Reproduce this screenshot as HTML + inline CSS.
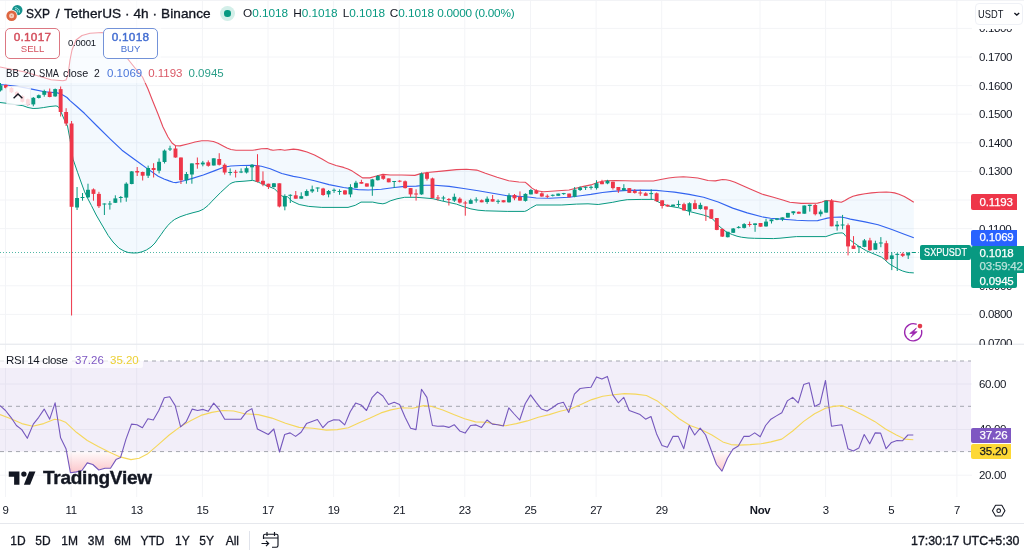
<!DOCTYPE html>
<html><head><meta charset="utf-8"><title>SXP / TetherUS</title>
<style>
html,body{margin:0;padding:0;background:#fff;}
body{width:1024px;height:550px;overflow:hidden;position:relative;font-family:"Liberation Sans",sans-serif;color:#131722;}
#chart{position:absolute;left:0;top:0;}
#wrap{position:absolute;left:0;top:0;width:1024px;height:550px;will-change:transform;transform:translateZ(0);}
.t{position:absolute;white-space:nowrap;line-height:1;}
#bb i{position:absolute;top:0;font-style:normal;transform-origin:0 0;}
.ax{position:absolute;left:979px;font-size:11.5px;color:#131722;line-height:12px;height:12px;white-space:nowrap;letter-spacing:-0.35px;}
.lab{position:absolute;left:971.3px;width:45.4px;height:15px;color:#fff;font-size:11.5px;line-height:15px;text-indent:8.3px;letter-spacing:-0.2px;white-space:nowrap;-webkit-text-stroke:0.25px currentColor;overflow:hidden;border-radius:2px 0 0 2px;}
.tl{position:absolute;top:504.2px;font-size:11.4px;letter-spacing:-0.4px;line-height:12px;transform:translateX(-50%);color:#131722;white-space:nowrap;}
.rb{position:absolute;top:535px;font-size:12px;line-height:12px;transform:translateX(-50%);color:#131722;white-space:nowrap;-webkit-text-stroke:0.3px #131722;}
.btn{position:absolute;top:28px;width:53px;height:29px;border:1px solid;border-radius:5px;background:#fff;text-align:center;}
.btn b{display:block;font-weight:normal;-webkit-text-stroke:0.45px currentColor;font-size:11.8px;line-height:12px;margin-top:1.6px;letter-spacing:0.25px;}
.btn span{display:block;font-size:9.6px;line-height:10px;margin-top:1.5px;}
</style></head><body>
<svg id="chart" width="1024" height="550" viewBox="0 0 1024 550" shape-rendering="auto">
<line x1="5.5" y1="0" x2="5.5" y2="497" stroke="#f3f4f7" stroke-width="1"/>
<line x1="71.1" y1="0" x2="71.1" y2="497" stroke="#f3f4f7" stroke-width="1"/>
<line x1="136.7" y1="0" x2="136.7" y2="497" stroke="#f3f4f7" stroke-width="1"/>
<line x1="202.4" y1="0" x2="202.4" y2="497" stroke="#f3f4f7" stroke-width="1"/>
<line x1="268.0" y1="0" x2="268.0" y2="497" stroke="#f3f4f7" stroke-width="1"/>
<line x1="333.6" y1="0" x2="333.6" y2="497" stroke="#f3f4f7" stroke-width="1"/>
<line x1="399.2" y1="0" x2="399.2" y2="497" stroke="#f3f4f7" stroke-width="1"/>
<line x1="464.8" y1="0" x2="464.8" y2="497" stroke="#f3f4f7" stroke-width="1"/>
<line x1="530.5" y1="0" x2="530.5" y2="497" stroke="#f3f4f7" stroke-width="1"/>
<line x1="596.1" y1="0" x2="596.1" y2="497" stroke="#f3f4f7" stroke-width="1"/>
<line x1="661.7" y1="0" x2="661.7" y2="497" stroke="#f3f4f7" stroke-width="1"/>
<line x1="760.0" y1="0" x2="760.0" y2="497" stroke="#f3f4f7" stroke-width="1"/>
<line x1="825.6" y1="0" x2="825.6" y2="497" stroke="#f3f4f7" stroke-width="1"/>
<line x1="891.3" y1="0" x2="891.3" y2="497" stroke="#f3f4f7" stroke-width="1"/>
<line x1="956.9" y1="0" x2="956.9" y2="497" stroke="#f3f4f7" stroke-width="1"/>
<line x1="0" y1="28.4" x2="972" y2="28.4" stroke="#f3f4f7" stroke-width="1"/>
<line x1="0" y1="57.0" x2="972" y2="57.0" stroke="#f3f4f7" stroke-width="1"/>
<line x1="0" y1="85.6" x2="972" y2="85.6" stroke="#f3f4f7" stroke-width="1"/>
<line x1="0" y1="114.2" x2="972" y2="114.2" stroke="#f3f4f7" stroke-width="1"/>
<line x1="0" y1="142.8" x2="972" y2="142.8" stroke="#f3f4f7" stroke-width="1"/>
<line x1="0" y1="171.4" x2="972" y2="171.4" stroke="#f3f4f7" stroke-width="1"/>
<line x1="0" y1="200.0" x2="972" y2="200.0" stroke="#f3f4f7" stroke-width="1"/>
<line x1="0" y1="228.6" x2="972" y2="228.6" stroke="#f3f4f7" stroke-width="1"/>
<line x1="0" y1="257.2" x2="972" y2="257.2" stroke="#f3f4f7" stroke-width="1"/>
<line x1="0" y1="285.8" x2="972" y2="285.8" stroke="#f3f4f7" stroke-width="1"/>
<line x1="0" y1="314.4" x2="972" y2="314.4" stroke="#f3f4f7" stroke-width="1"/>
<line x1="0" y1="384" x2="972" y2="384" stroke="#f3f4f7" stroke-width="1"/>
<line x1="0" y1="429.5" x2="972" y2="429.5" stroke="#f3f4f7" stroke-width="1"/>
<line x1="0" y1="475.2" x2="972" y2="475.2" stroke="#f3f4f7" stroke-width="1"/>
<rect x="0" y="343.6" width="1024" height="1.3" fill="#e8eaef"/>
<rect x="0" y="523" width="1024" height="1" fill="#e6e8ed"/>
<polygon points="0.0,67.0 25.0,72.0 51.0,79.8 63.0,80.7 66.0,80.0 68.0,75.0 70.0,60.0 72.0,50.0 76.0,40.0 82.0,35.5 90.0,33.3 102.0,32.5 112.0,36.0 120.0,46.0 127.0,58.0 135.0,68.0 142.5,77.0 148.0,89.0 152.7,101.0 158.0,114.0 163.0,127.0 168.0,137.0 172.0,143.0 175.6,145.7 180.0,145.9 188.7,143.7 195.0,142.0 201.8,140.8 208.0,140.8 213.4,141.5 218.0,143.3 222.2,145.5 227.0,148.0 230.9,149.5 236.0,150.2 241.0,150.3 252.7,150.3 261.4,148.8 267.2,148.5 270.0,149.6 273.0,150.3 280.3,149.5 284.7,150.3 293.4,149.1 298.0,149.6 302.1,150.6 307.0,152.0 314.5,155.1 322.0,159.0 329.0,163.1 336.0,165.5 343.6,167.4 348.0,169.0 352.3,171.1 358.2,175.0 362.5,177.9 369.8,177.9 375.6,176.2 382.9,174.4 390.2,175.0 401.8,175.0 414.9,175.4 420.7,173.6 427.3,172.5 441.8,171.1 456.4,169.6 466.5,169.3 476.7,170.1 485.4,173.3 497.1,177.3 508.7,180.8 518.9,182.0 525.4,182.3 528.0,184.5 532.0,188.1 536.3,190.7 543.6,191.7 554.5,191.0 569.0,190.0 574.9,188.5 583.6,186.4 590.9,184.9 598.2,182.3 605.4,180.8 615.6,180.5 634.5,181.0 653.4,181.0 657.0,180.3 660.7,179.5 668.7,178.0 675.0,177.2 683.3,176.8 690.0,177.2 697.8,178.0 703.0,179.2 708.0,180.5 715.3,180.9 722.5,179.5 726.0,179.8 729.8,180.5 735.0,182.3 740.0,184.5 750.2,188.9 761.8,194.0 773.4,197.3 783.6,200.2 789.8,202.3 801.3,203.4 817.6,203.1 822.0,202.0 825.8,200.6 830.0,200.8 835.6,201.4 841.3,202.3 845.0,200.5 848.7,198.2 853.0,196.3 858.5,194.9 865.0,193.7 871.6,192.9 879.0,192.3 886.3,192.0 890.0,192.2 894.5,192.9 899.0,194.3 904.3,196.5 909.0,199.3 913.8,202.3 913.8,272.9 909.2,272.6 906.0,272.0 902.7,271.0 898.5,269.2 894.5,266.9 891.0,265.0 888.0,262.8 884.5,259.5 881.4,257.1 876.5,255.0 871.6,253.0 866.5,250.8 861.8,248.1 857.0,245.0 852.0,241.5 848.5,238.5 845.4,235.8 844.0,233.8 842.2,232.9 838.0,233.1 834.0,233.8 830.0,235.2 825.8,236.6 796.4,236.6 790.0,237.2 780.0,238.2 773.4,238.6 754.5,238.3 748.0,238.0 741.4,237.2 737.0,236.2 732.7,234.7 728.0,232.8 724.0,230.3 718.2,225.3 715.0,221.5 712.3,218.7 708.0,216.5 703.6,215.1 689.1,211.4 678.9,207.8 668.7,206.1 662.1,203.8 656.3,200.9 653.4,199.4 641.8,199.4 627.2,199.7 620.0,200.8 612.7,202.3 598.2,204.5 588.0,203.8 576.4,204.1 561.8,205.0 536.3,205.0 530.5,208.2 527.0,210.5 524.7,211.4 507.2,211.4 485.4,210.8 478.0,210.2 470.9,208.9 463.0,206.5 456.4,204.1 441.8,200.9 433.0,198.7 425.0,198.0 416.3,197.3 404.7,197.3 397.0,198.8 390.2,200.9 386.0,203.0 382.9,203.8 378.0,203.2 372.7,202.1 361.0,202.1 355.3,205.3 348.0,207.4 321.8,207.4 308.7,206.4 299.2,204.5 292.0,201.2 287.6,196.8 281.8,196.1 278.9,193.2 274.5,188.8 267.2,185.9 258.5,182.3 255.0,181.0 252.7,180.4 244.0,181.2 235.3,181.8 232.0,182.8 229.4,184.4 220.7,192.4 212.0,201.2 208.0,205.5 203.3,209.2 199.0,211.2 193.0,212.7 186.3,214.6 180.0,216.8 174.7,219.4 171.5,221.8 168.0,225.3 164.5,229.6 161.0,234.6 157.2,239.8 155.0,243.0 151.0,247.0 146.4,250.0 142.0,251.8 137.3,252.9 133.0,253.0 128.2,252.5 124.0,251.0 119.0,248.2 113.0,242.0 108.2,235.5 102.0,225.0 96.2,215.0 91.4,205.5 88.0,199.0 84.6,191.8 81.0,182.0 77.7,172.7 73.0,159.1 70.0,139.4 67.5,126.0 64.0,119.0 61.0,112.0 59.2,108.2 58.0,106.5 56.0,105.9 50.0,106.5 43.3,107.6 38.0,108.3 33.1,108.5 28.0,107.5 22.9,105.7 7.6,103.4 0.0,102.5" fill="rgba(33,150,243,0.055)"/>
<polyline points="0.0,67.0 25.0,72.0 51.0,79.8 63.0,80.7 66.0,80.0 68.0,75.0 70.0,60.0 72.0,50.0 76.0,40.0 82.0,35.5 90.0,33.3 102.0,32.5 112.0,36.0 120.0,46.0 127.0,58.0 135.0,68.0 142.5,77.0 148.0,89.0 152.7,101.0 158.0,114.0 163.0,127.0 168.0,137.0 172.0,143.0 175.6,145.7 180.0,145.9 188.7,143.7 195.0,142.0 201.8,140.8 208.0,140.8 213.4,141.5 218.0,143.3 222.2,145.5 227.0,148.0 230.9,149.5 236.0,150.2 241.0,150.3 252.7,150.3 261.4,148.8 267.2,148.5 270.0,149.6 273.0,150.3 280.3,149.5 284.7,150.3 293.4,149.1 298.0,149.6 302.1,150.6 307.0,152.0 314.5,155.1 322.0,159.0 329.0,163.1 336.0,165.5 343.6,167.4 348.0,169.0 352.3,171.1 358.2,175.0 362.5,177.9 369.8,177.9 375.6,176.2 382.9,174.4 390.2,175.0 401.8,175.0 414.9,175.4 420.7,173.6 427.3,172.5 441.8,171.1 456.4,169.6 466.5,169.3 476.7,170.1 485.4,173.3 497.1,177.3 508.7,180.8 518.9,182.0 525.4,182.3 528.0,184.5 532.0,188.1 536.3,190.7 543.6,191.7 554.5,191.0 569.0,190.0 574.9,188.5 583.6,186.4 590.9,184.9 598.2,182.3 605.4,180.8 615.6,180.5 634.5,181.0 653.4,181.0 657.0,180.3 660.7,179.5 668.7,178.0 675.0,177.2 683.3,176.8 690.0,177.2 697.8,178.0 703.0,179.2 708.0,180.5 715.3,180.9 722.5,179.5 726.0,179.8 729.8,180.5 735.0,182.3 740.0,184.5 750.2,188.9 761.8,194.0 773.4,197.3 783.6,200.2 789.8,202.3 801.3,203.4 817.6,203.1 822.0,202.0 825.8,200.6 830.0,200.8 835.6,201.4 841.3,202.3 845.0,200.5 848.7,198.2 853.0,196.3 858.5,194.9 865.0,193.7 871.6,192.9 879.0,192.3 886.3,192.0 890.0,192.2 894.5,192.9 899.0,194.3 904.3,196.5 909.0,199.3 913.8,202.3" fill="none" stroke="#e6495b" stroke-width="1.1" stroke-linejoin="round"/>
<polyline points="0.0,102.5 7.6,103.4 22.9,105.7 28.0,107.5 33.1,108.5 38.0,108.3 43.3,107.6 50.0,106.5 56.0,105.9 58.0,106.5 59.2,108.2 61.0,112.0 64.0,119.0 67.5,126.0 70.0,139.4 73.0,159.1 77.7,172.7 81.0,182.0 84.6,191.8 88.0,199.0 91.4,205.5 96.2,215.0 102.0,225.0 108.2,235.5 113.0,242.0 119.0,248.2 124.0,251.0 128.2,252.5 133.0,253.0 137.3,252.9 142.0,251.8 146.4,250.0 151.0,247.0 155.0,243.0 157.2,239.8 161.0,234.6 164.5,229.6 168.0,225.3 171.5,221.8 174.7,219.4 180.0,216.8 186.3,214.6 193.0,212.7 199.0,211.2 203.3,209.2 208.0,205.5 212.0,201.2 220.7,192.4 229.4,184.4 232.0,182.8 235.3,181.8 244.0,181.2 252.7,180.4 255.0,181.0 258.5,182.3 267.2,185.9 274.5,188.8 278.9,193.2 281.8,196.1 287.6,196.8 292.0,201.2 299.2,204.5 308.7,206.4 321.8,207.4 348.0,207.4 355.3,205.3 361.0,202.1 372.7,202.1 378.0,203.2 382.9,203.8 386.0,203.0 390.2,200.9 397.0,198.8 404.7,197.3 416.3,197.3 425.0,198.0 433.0,198.7 441.8,200.9 456.4,204.1 463.0,206.5 470.9,208.9 478.0,210.2 485.4,210.8 507.2,211.4 524.7,211.4 527.0,210.5 530.5,208.2 536.3,205.0 561.8,205.0 576.4,204.1 588.0,203.8 598.2,204.5 612.7,202.3 620.0,200.8 627.2,199.7 641.8,199.4 653.4,199.4 656.3,200.9 662.1,203.8 668.7,206.1 678.9,207.8 689.1,211.4 703.6,215.1 708.0,216.5 712.3,218.7 715.0,221.5 718.2,225.3 724.0,230.3 728.0,232.8 732.7,234.7 737.0,236.2 741.4,237.2 748.0,238.0 754.5,238.3 773.4,238.6 780.0,238.2 790.0,237.2 796.4,236.6 825.8,236.6 830.0,235.2 834.0,233.8 838.0,233.1 842.2,232.9 844.0,233.8 845.4,235.8 848.5,238.5 852.0,241.5 857.0,245.0 861.8,248.1 866.5,250.8 871.6,253.0 876.5,255.0 881.4,257.1 884.5,259.5 888.0,262.8 891.0,265.0 894.5,266.9 898.5,269.2 902.7,271.0 906.0,272.0 909.2,272.6 913.8,272.9" fill="none" stroke="#089981" stroke-width="1" stroke-linejoin="round"/>
<polyline points="0.0,84.5 8.0,85.3 19.0,86.6 31.8,89.1 44.6,91.7 57.3,92.9 61.0,94.0 63.7,95.5 67.0,97.5 70.0,100.6 76.8,106.5 84.4,113.3 97.0,126.0 110.6,139.4 122.0,150.2 135.0,159.8 147.3,168.6 158.2,176.2 164.0,179.0 169.1,180.9 173.0,182.2 176.0,182.6 180.0,181.8 185.0,180.5 191.6,178.6 203.3,175.0 214.9,170.6 223.6,167.3 230.9,166.0 241.0,165.5 252.7,165.2 261.4,166.3 270.2,168.7 281.8,173.5 293.4,176.4 300.0,177.5 314.5,180.8 329.0,184.6 343.6,187.5 358.2,189.6 368.3,190.0 381.4,189.3 394.5,187.5 404.7,186.4 416.3,186.1 425.0,185.3 434.5,185.2 449.1,186.4 463.6,188.5 478.2,190.7 492.7,193.3 507.2,195.8 521.8,196.5 530.5,197.3 536.3,198.0 550.0,198.2 554.5,198.0 569.0,197.3 580.7,195.8 590.9,194.4 602.5,192.5 612.7,191.4 627.2,190.4 641.8,190.1 656.3,190.4 665.0,191.2 674.5,192.1 689.1,194.4 703.6,197.3 718.2,202.0 732.7,208.1 747.2,212.9 761.8,216.8 770.5,218.3 780.7,219.1 790.0,219.7 796.4,220.3 808.0,220.7 817.6,220.6 822.0,219.5 827.4,218.1 834.0,217.3 840.5,217.0 845.0,217.8 850.3,219.1 865.0,221.9 878.1,224.7 891.2,229.3 904.3,234.2 913.8,237.8" fill="none" stroke="#3264f0" stroke-width="1.15" stroke-linejoin="round"/>
<line x1="0" y1="252.5" x2="972" y2="252.5" stroke="#089981" stroke-width="1" stroke-dasharray="1 2" opacity="0.7"/>
<rect x="0.00" y="83.0" width="1" height="8.5" fill="#089981"/>
<rect x="-1.45" y="85.3" width="3.9" height="5.1" fill="#089981"/>
<rect x="5.47" y="84.5" width="1" height="4.0" fill="#ee3649"/>
<rect x="4.02" y="85.0" width="3.9" height="2.8" fill="#ee3649"/>
<rect x="10.94" y="87.0" width="1" height="6.0" fill="#ee3649"/>
<rect x="9.49" y="87.8" width="3.9" height="4.5" fill="#ee3649"/>
<rect x="16.40" y="91.0" width="1" height="6.0" fill="#ee3649"/>
<rect x="14.95" y="92.0" width="3.9" height="4.0" fill="#ee3649"/>
<rect x="21.87" y="95.0" width="1" height="7.5" fill="#ee3649"/>
<rect x="20.42" y="96.0" width="3.9" height="5.8" fill="#ee3649"/>
<rect x="27.34" y="98.5" width="1" height="7.0" fill="#ee3649"/>
<rect x="25.89" y="99.3" width="3.9" height="5.7" fill="#ee3649"/>
<rect x="32.81" y="97.0" width="1" height="9.3" fill="#089981"/>
<rect x="31.36" y="97.8" width="3.9" height="6.6" fill="#089981"/>
<rect x="38.28" y="94.5" width="1" height="4.0" fill="#089981"/>
<rect x="36.83" y="95.2" width="3.9" height="2.8" fill="#089981"/>
<rect x="43.74" y="89.7" width="1" height="7.0" fill="#089981"/>
<rect x="42.29" y="91.0" width="3.9" height="3.8" fill="#089981"/>
<rect x="49.21" y="88.5" width="1" height="8.8" fill="#ee3649"/>
<rect x="47.76" y="91.9" width="3.9" height="5.1" fill="#ee3649"/>
<rect x="54.68" y="88.5" width="1" height="8.3" fill="#089981"/>
<rect x="53.23" y="89.1" width="3.9" height="7.3" fill="#089981"/>
<rect x="60.15" y="86.5" width="1" height="30.0" fill="#ee3649"/>
<rect x="58.70" y="89.1" width="3.9" height="22.9" fill="#ee3649"/>
<rect x="65.62" y="108.2" width="1" height="17.8" fill="#ee3649"/>
<rect x="64.17" y="112.0" width="3.9" height="11.5" fill="#ee3649"/>
<rect x="71.08" y="121.0" width="1" height="194.5" fill="#ee3649"/>
<rect x="69.63" y="123.5" width="3.9" height="83.3" fill="#ee3649"/>
<rect x="76.55" y="187.0" width="1" height="23.0" fill="#089981"/>
<rect x="75.10" y="198.0" width="3.9" height="9.5" fill="#089981"/>
<rect x="82.02" y="193.0" width="1" height="7.7" fill="#089981"/>
<rect x="80.57" y="197.0" width="3.9" height="1.0" fill="#089981"/>
<rect x="87.49" y="183.7" width="1" height="14.3" fill="#089981"/>
<rect x="86.04" y="189.8" width="3.9" height="7.5" fill="#089981"/>
<rect x="92.96" y="188.4" width="1" height="12.3" fill="#ee3649"/>
<rect x="91.51" y="189.4" width="3.9" height="4.5" fill="#ee3649"/>
<rect x="98.42" y="191.8" width="1" height="16.2" fill="#ee3649"/>
<rect x="96.97" y="193.9" width="3.9" height="12.3" fill="#ee3649"/>
<rect x="103.89" y="203.4" width="1" height="11.6" fill="#089981"/>
<rect x="102.44" y="203.5" width="3.9" height="1.0" fill="#089981"/>
<rect x="109.36" y="201.0" width="1" height="8.6" fill="#089981"/>
<rect x="107.91" y="203.5" width="3.9" height="1.0" fill="#089981"/>
<rect x="114.83" y="195.3" width="1" height="7.7" fill="#089981"/>
<rect x="113.38" y="198.4" width="3.9" height="4.4" fill="#089981"/>
<rect x="120.30" y="196.0" width="1" height="6.5" fill="#089981"/>
<rect x="118.85" y="197.0" width="3.9" height="1.0" fill="#089981"/>
<rect x="125.76" y="182.3" width="1" height="19.4" fill="#089981"/>
<rect x="124.31" y="183.7" width="3.9" height="13.9" fill="#089981"/>
<rect x="131.23" y="171.0" width="1" height="13.3" fill="#089981"/>
<rect x="129.78" y="171.4" width="3.9" height="12.6" fill="#089981"/>
<rect x="136.70" y="167.0" width="1" height="9.0" fill="#ee3649"/>
<rect x="135.25" y="171.0" width="3.9" height="1.5" fill="#ee3649"/>
<rect x="142.17" y="171.6" width="1" height="8.9" fill="#ee3649"/>
<rect x="140.72" y="172.0" width="3.9" height="3.7" fill="#ee3649"/>
<rect x="147.64" y="165.6" width="1" height="12.4" fill="#089981"/>
<rect x="146.19" y="168.0" width="3.9" height="7.7" fill="#089981"/>
<rect x="153.10" y="163.2" width="1" height="14.3" fill="#ee3649"/>
<rect x="151.65" y="168.0" width="3.9" height="2.0" fill="#ee3649"/>
<rect x="158.57" y="158.4" width="1" height="15.0" fill="#089981"/>
<rect x="157.12" y="161.8" width="3.9" height="8.9" fill="#089981"/>
<rect x="164.04" y="149.5" width="1" height="14.0" fill="#089981"/>
<rect x="162.59" y="150.6" width="3.9" height="11.4" fill="#089981"/>
<rect x="169.51" y="145.7" width="1" height="5.3" fill="#089981"/>
<rect x="168.06" y="148.5" width="3.9" height="1.0" fill="#089981"/>
<rect x="174.98" y="146.0" width="1" height="11.7" fill="#ee3649"/>
<rect x="173.53" y="148.5" width="3.9" height="9.0" fill="#ee3649"/>
<rect x="180.44" y="157.5" width="1" height="26.5" fill="#ee3649"/>
<rect x="178.99" y="157.5" width="3.9" height="22.7" fill="#ee3649"/>
<rect x="185.91" y="172.0" width="1" height="11.7" fill="#089981"/>
<rect x="184.46" y="174.0" width="3.9" height="6.2" fill="#089981"/>
<rect x="191.38" y="163.4" width="1" height="20.3" fill="#089981"/>
<rect x="189.93" y="163.4" width="3.9" height="11.1" fill="#089981"/>
<rect x="196.85" y="157.5" width="1" height="11.2" fill="#ee3649"/>
<rect x="195.40" y="163.0" width="3.9" height="1.4" fill="#ee3649"/>
<rect x="202.32" y="160.9" width="1" height="5.4" fill="#089981"/>
<rect x="200.87" y="162.6" width="3.9" height="1.8" fill="#089981"/>
<rect x="207.78" y="160.4" width="1" height="6.3" fill="#ee3649"/>
<rect x="206.33" y="162.3" width="3.9" height="3.5" fill="#ee3649"/>
<rect x="213.25" y="158.3" width="1" height="7.2" fill="#089981"/>
<rect x="211.80" y="158.3" width="3.9" height="7.2" fill="#089981"/>
<rect x="218.72" y="153.2" width="1" height="12.3" fill="#ee3649"/>
<rect x="217.27" y="159.0" width="3.9" height="5.8" fill="#ee3649"/>
<rect x="224.19" y="163.4" width="1" height="11.2" fill="#ee3649"/>
<rect x="222.74" y="164.8" width="3.9" height="7.7" fill="#ee3649"/>
<rect x="229.66" y="168.4" width="1" height="7.0" fill="#089981"/>
<rect x="228.21" y="172.0" width="3.9" height="1.0" fill="#089981"/>
<rect x="235.12" y="169.9" width="1" height="7.6" fill="#ee3649"/>
<rect x="233.67" y="171.8" width="3.9" height="1.0" fill="#ee3649"/>
<rect x="240.59" y="168.4" width="1" height="4.7" fill="#089981"/>
<rect x="239.14" y="171.5" width="3.9" height="1.0" fill="#089981"/>
<rect x="246.06" y="166.3" width="1" height="7.2" fill="#089981"/>
<rect x="244.61" y="168.2" width="3.9" height="4.3" fill="#089981"/>
<rect x="251.53" y="164.0" width="1" height="16.0" fill="#089981"/>
<rect x="250.08" y="164.8" width="3.9" height="2.5" fill="#089981"/>
<rect x="257.00" y="154.2" width="1" height="28.1" fill="#ee3649"/>
<rect x="255.55" y="165.5" width="3.9" height="16.3" fill="#ee3649"/>
<rect x="262.46" y="171.4" width="1" height="14.8" fill="#ee3649"/>
<rect x="261.01" y="180.8" width="3.9" height="3.6" fill="#ee3649"/>
<rect x="267.93" y="183.7" width="1" height="5.3" fill="#ee3649"/>
<rect x="266.48" y="183.7" width="3.9" height="3.3" fill="#ee3649"/>
<rect x="273.40" y="183.0" width="1" height="4.6" fill="#089981"/>
<rect x="271.95" y="183.3" width="3.9" height="3.7" fill="#089981"/>
<rect x="278.87" y="183.3" width="1" height="24.1" fill="#ee3649"/>
<rect x="277.42" y="183.3" width="3.9" height="23.2" fill="#ee3649"/>
<rect x="284.34" y="194.3" width="1" height="16.0" fill="#089981"/>
<rect x="282.89" y="196.0" width="3.9" height="10.5" fill="#089981"/>
<rect x="289.80" y="194.3" width="1" height="8.7" fill="#089981"/>
<rect x="288.35" y="194.8" width="3.9" height="1.0" fill="#089981"/>
<rect x="295.27" y="191.0" width="1" height="7.7" fill="#ee3649"/>
<rect x="293.82" y="195.3" width="3.9" height="3.4" fill="#ee3649"/>
<rect x="300.74" y="192.3" width="1" height="6.4" fill="#089981"/>
<rect x="299.29" y="196.2" width="3.9" height="2.5" fill="#089981"/>
<rect x="306.21" y="189.4" width="1" height="6.8" fill="#089981"/>
<rect x="304.76" y="191.0" width="3.9" height="4.8" fill="#089981"/>
<rect x="311.68" y="185.6" width="1" height="7.3" fill="#089981"/>
<rect x="310.23" y="189.3" width="3.9" height="2.1" fill="#089981"/>
<rect x="317.14" y="187.5" width="1" height="4.4" fill="#089981"/>
<rect x="315.69" y="187.5" width="3.9" height="1.0" fill="#089981"/>
<rect x="322.61" y="187.8" width="1" height="8.0" fill="#ee3649"/>
<rect x="321.16" y="188.5" width="3.9" height="6.5" fill="#ee3649"/>
<rect x="328.08" y="190.0" width="1" height="7.3" fill="#089981"/>
<rect x="326.63" y="191.0" width="3.9" height="3.4" fill="#089981"/>
<rect x="333.55" y="188.5" width="1" height="4.4" fill="#089981"/>
<rect x="332.10" y="189.8" width="3.9" height="1.0" fill="#089981"/>
<rect x="339.02" y="189.3" width="1" height="5.5" fill="#089981"/>
<rect x="337.57" y="191.0" width="3.9" height="1.0" fill="#089981"/>
<rect x="344.48" y="190.0" width="1" height="4.8" fill="#ee3649"/>
<rect x="343.03" y="190.4" width="3.9" height="4.0" fill="#ee3649"/>
<rect x="349.95" y="184.2" width="1" height="13.1" fill="#089981"/>
<rect x="348.50" y="187.0" width="3.9" height="7.4" fill="#089981"/>
<rect x="355.42" y="180.8" width="1" height="7.3" fill="#089981"/>
<rect x="353.97" y="182.7" width="3.9" height="5.1" fill="#089981"/>
<rect x="360.89" y="179.8" width="1" height="3.9" fill="#ee3649"/>
<rect x="359.44" y="182.0" width="3.9" height="1.7" fill="#ee3649"/>
<rect x="366.36" y="183.4" width="1" height="3.2" fill="#ee3649"/>
<rect x="364.91" y="183.4" width="3.9" height="3.2" fill="#ee3649"/>
<rect x="371.82" y="178.8" width="1" height="17.0" fill="#089981"/>
<rect x="370.37" y="179.4" width="3.9" height="7.2" fill="#089981"/>
<rect x="377.29" y="175.0" width="1" height="5.5" fill="#089981"/>
<rect x="375.84" y="175.9" width="3.9" height="4.3" fill="#089981"/>
<rect x="382.76" y="174.0" width="1" height="5.8" fill="#ee3649"/>
<rect x="381.31" y="175.4" width="3.9" height="3.4" fill="#ee3649"/>
<rect x="388.23" y="178.4" width="1" height="3.9" fill="#ee3649"/>
<rect x="386.78" y="178.4" width="3.9" height="3.9" fill="#ee3649"/>
<rect x="393.70" y="181.0" width="1" height="7.0" fill="#089981"/>
<rect x="392.25" y="181.0" width="3.9" height="1.0" fill="#089981"/>
<rect x="399.16" y="180.2" width="1" height="2.1" fill="#ee3649"/>
<rect x="397.71" y="180.7" width="3.9" height="1.0" fill="#ee3649"/>
<rect x="404.63" y="180.5" width="1" height="8.0" fill="#ee3649"/>
<rect x="403.18" y="181.3" width="3.9" height="6.8" fill="#ee3649"/>
<rect x="410.10" y="188.1" width="1" height="8.7" fill="#ee3649"/>
<rect x="408.65" y="188.1" width="3.9" height="6.3" fill="#ee3649"/>
<rect x="415.57" y="189.3" width="1" height="11.3" fill="#ee3649"/>
<rect x="414.12" y="193.5" width="3.9" height="1.0" fill="#ee3649"/>
<rect x="421.04" y="172.5" width="1" height="22.3" fill="#089981"/>
<rect x="419.59" y="173.6" width="3.9" height="20.8" fill="#089981"/>
<rect x="426.50" y="171.8" width="1" height="8.7" fill="#ee3649"/>
<rect x="425.05" y="173.0" width="3.9" height="5.8" fill="#ee3649"/>
<rect x="431.97" y="177.6" width="1" height="20.7" fill="#ee3649"/>
<rect x="430.52" y="178.4" width="3.9" height="19.6" fill="#ee3649"/>
<rect x="437.44" y="195.0" width="1" height="5.6" fill="#ee3649"/>
<rect x="435.99" y="197.5" width="3.9" height="1.0" fill="#ee3649"/>
<rect x="442.91" y="195.8" width="1" height="5.1" fill="#089981"/>
<rect x="441.46" y="197.5" width="3.9" height="1.0" fill="#089981"/>
<rect x="448.38" y="198.0" width="1" height="7.5" fill="#ee3649"/>
<rect x="446.93" y="199.0" width="3.9" height="1.0" fill="#ee3649"/>
<rect x="453.84" y="193.6" width="1" height="8.4" fill="#089981"/>
<rect x="452.39" y="196.8" width="3.9" height="3.8" fill="#089981"/>
<rect x="459.31" y="197.3" width="1" height="6.2" fill="#ee3649"/>
<rect x="457.86" y="198.7" width="3.9" height="3.9" fill="#ee3649"/>
<rect x="464.78" y="200.9" width="1" height="14.8" fill="#ee3649"/>
<rect x="463.33" y="202.5" width="3.9" height="1.0" fill="#ee3649"/>
<rect x="470.25" y="198.7" width="1" height="5.1" fill="#089981"/>
<rect x="468.80" y="200.2" width="3.9" height="3.6" fill="#089981"/>
<rect x="475.72" y="197.3" width="1" height="5.3" fill="#089981"/>
<rect x="474.27" y="199.5" width="3.9" height="1.0" fill="#089981"/>
<rect x="481.18" y="199.4" width="1" height="2.9" fill="#ee3649"/>
<rect x="479.73" y="200.2" width="3.9" height="2.1" fill="#ee3649"/>
<rect x="486.65" y="196.5" width="1" height="7.3" fill="#089981"/>
<rect x="485.20" y="198.7" width="3.9" height="3.3" fill="#089981"/>
<rect x="492.12" y="195.0" width="1" height="6.6" fill="#ee3649"/>
<rect x="490.67" y="199.1" width="3.9" height="2.5" fill="#ee3649"/>
<rect x="497.59" y="199.4" width="1" height="4.4" fill="#089981"/>
<rect x="496.14" y="200.8" width="3.9" height="1.0" fill="#089981"/>
<rect x="503.06" y="200.2" width="1" height="2.1" fill="#ee3649"/>
<rect x="501.61" y="200.2" width="3.9" height="2.1" fill="#ee3649"/>
<rect x="508.52" y="193.3" width="1" height="9.3" fill="#089981"/>
<rect x="507.07" y="195.4" width="3.9" height="6.9" fill="#089981"/>
<rect x="513.99" y="194.0" width="1" height="6.2" fill="#ee3649"/>
<rect x="512.54" y="195.0" width="3.9" height="3.3" fill="#ee3649"/>
<rect x="519.46" y="191.4" width="1" height="9.2" fill="#ee3649"/>
<rect x="518.01" y="196.8" width="3.9" height="3.8" fill="#ee3649"/>
<rect x="524.93" y="193.3" width="1" height="8.3" fill="#089981"/>
<rect x="523.48" y="193.9" width="3.9" height="7.0" fill="#089981"/>
<rect x="530.40" y="189.0" width="1" height="5.4" fill="#089981"/>
<rect x="528.95" y="190.0" width="3.9" height="4.4" fill="#089981"/>
<rect x="535.86" y="189.3" width="1" height="4.6" fill="#ee3649"/>
<rect x="534.41" y="190.4" width="3.9" height="3.2" fill="#ee3649"/>
<rect x="541.33" y="192.2" width="1" height="4.6" fill="#ee3649"/>
<rect x="539.88" y="193.3" width="3.9" height="3.2" fill="#ee3649"/>
<rect x="546.80" y="194.4" width="1" height="3.6" fill="#ee3649"/>
<rect x="545.35" y="195.8" width="3.9" height="1.0" fill="#ee3649"/>
<rect x="552.27" y="194.4" width="1" height="2.1" fill="#089981"/>
<rect x="550.82" y="194.8" width="3.9" height="1.0" fill="#089981"/>
<rect x="557.74" y="193.6" width="1" height="2.2" fill="#089981"/>
<rect x="556.29" y="193.6" width="3.9" height="2.2" fill="#089981"/>
<rect x="563.20" y="192.9" width="1" height="1.9" fill="#089981"/>
<rect x="561.75" y="193.1" width="3.9" height="1.0" fill="#089981"/>
<rect x="568.67" y="193.6" width="1" height="3.7" fill="#ee3649"/>
<rect x="567.22" y="193.6" width="3.9" height="3.7" fill="#ee3649"/>
<rect x="574.14" y="187.0" width="1" height="10.3" fill="#089981"/>
<rect x="572.69" y="189.6" width="3.9" height="7.2" fill="#089981"/>
<rect x="579.61" y="186.4" width="1" height="4.6" fill="#089981"/>
<rect x="578.16" y="187.5" width="3.9" height="2.5" fill="#089981"/>
<rect x="585.08" y="186.4" width="1" height="3.6" fill="#089981"/>
<rect x="583.63" y="186.8" width="3.9" height="1.0" fill="#089981"/>
<rect x="590.54" y="185.6" width="1" height="4.0" fill="#089981"/>
<rect x="589.09" y="186.8" width="3.9" height="1.0" fill="#089981"/>
<rect x="596.01" y="180.2" width="1" height="9.4" fill="#089981"/>
<rect x="594.56" y="183.2" width="3.9" height="4.9" fill="#089981"/>
<rect x="601.48" y="179.8" width="1" height="4.4" fill="#ee3649"/>
<rect x="600.03" y="181.7" width="3.9" height="2.5" fill="#ee3649"/>
<rect x="606.95" y="179.8" width="1" height="4.4" fill="#089981"/>
<rect x="605.50" y="180.8" width="3.9" height="2.6" fill="#089981"/>
<rect x="612.42" y="181.7" width="1" height="7.9" fill="#ee3649"/>
<rect x="610.97" y="181.7" width="3.9" height="6.4" fill="#ee3649"/>
<rect x="617.88" y="187.0" width="1" height="5.9" fill="#ee3649"/>
<rect x="616.43" y="187.0" width="3.9" height="3.4" fill="#ee3649"/>
<rect x="623.35" y="184.2" width="1" height="6.2" fill="#089981"/>
<rect x="621.90" y="188.1" width="3.9" height="2.3" fill="#089981"/>
<rect x="628.82" y="188.1" width="1" height="4.8" fill="#ee3649"/>
<rect x="627.37" y="188.1" width="3.9" height="4.8" fill="#ee3649"/>
<rect x="634.29" y="189.0" width="1" height="4.6" fill="#ee3649"/>
<rect x="632.84" y="191.0" width="3.9" height="1.9" fill="#ee3649"/>
<rect x="639.76" y="189.6" width="1" height="6.2" fill="#ee3649"/>
<rect x="638.31" y="192.5" width="3.9" height="1.0" fill="#ee3649"/>
<rect x="645.22" y="192.2" width="1" height="3.6" fill="#ee3649"/>
<rect x="643.77" y="193.3" width="3.9" height="2.5" fill="#ee3649"/>
<rect x="650.69" y="189.3" width="1" height="10.1" fill="#089981"/>
<rect x="649.24" y="193.1" width="3.9" height="1.0" fill="#089981"/>
<rect x="656.16" y="192.5" width="1" height="9.1" fill="#ee3649"/>
<rect x="654.71" y="193.3" width="3.9" height="7.9" fill="#ee3649"/>
<rect x="661.63" y="200.3" width="1" height="8.2" fill="#ee3649"/>
<rect x="660.18" y="200.3" width="3.9" height="5.7" fill="#ee3649"/>
<rect x="667.10" y="204.5" width="1" height="2.2" fill="#ee3649"/>
<rect x="665.65" y="204.8" width="3.9" height="1.7" fill="#ee3649"/>
<rect x="672.56" y="204.6" width="1" height="1.8" fill="#089981"/>
<rect x="671.11" y="204.6" width="3.9" height="1.8" fill="#089981"/>
<rect x="678.03" y="200.5" width="1" height="6.5" fill="#089981"/>
<rect x="676.58" y="204.0" width="3.9" height="1.0" fill="#089981"/>
<rect x="683.50" y="202.7" width="1" height="8.0" fill="#ee3649"/>
<rect x="682.05" y="204.2" width="3.9" height="6.2" fill="#ee3649"/>
<rect x="688.97" y="202.3" width="1" height="13.1" fill="#089981"/>
<rect x="687.52" y="203.2" width="3.9" height="7.8" fill="#089981"/>
<rect x="694.44" y="199.8" width="1" height="9.5" fill="#ee3649"/>
<rect x="692.99" y="203.2" width="3.9" height="5.8" fill="#ee3649"/>
<rect x="699.90" y="202.7" width="1" height="6.9" fill="#089981"/>
<rect x="698.45" y="204.9" width="3.9" height="4.1" fill="#089981"/>
<rect x="705.37" y="206.4" width="1" height="14.5" fill="#ee3649"/>
<rect x="703.92" y="206.4" width="3.9" height="3.2" fill="#ee3649"/>
<rect x="710.84" y="209.3" width="1" height="9.7" fill="#ee3649"/>
<rect x="709.39" y="209.3" width="3.9" height="9.4" fill="#ee3649"/>
<rect x="716.31" y="218.0" width="1" height="12.2" fill="#ee3649"/>
<rect x="714.86" y="218.0" width="3.9" height="11.9" fill="#ee3649"/>
<rect x="721.78" y="228.5" width="1" height="8.5" fill="#ee3649"/>
<rect x="720.33" y="228.9" width="3.9" height="7.7" fill="#ee3649"/>
<rect x="727.24" y="231.8" width="1" height="5.6" fill="#089981"/>
<rect x="725.79" y="231.8" width="3.9" height="5.4" fill="#089981"/>
<rect x="732.71" y="228.0" width="1" height="5.0" fill="#089981"/>
<rect x="731.26" y="228.5" width="3.9" height="4.3" fill="#089981"/>
<rect x="738.18" y="226.0" width="1" height="2.5" fill="#089981"/>
<rect x="736.73" y="226.9" width="3.9" height="1.0" fill="#089981"/>
<rect x="743.65" y="223.1" width="1" height="5.4" fill="#089981"/>
<rect x="742.20" y="224.1" width="3.9" height="3.8" fill="#089981"/>
<rect x="749.12" y="221.6" width="1" height="5.1" fill="#ee3649"/>
<rect x="747.67" y="224.0" width="3.9" height="1.0" fill="#ee3649"/>
<rect x="754.58" y="223.4" width="1" height="8.4" fill="#089981"/>
<rect x="753.13" y="223.4" width="3.9" height="1.6" fill="#089981"/>
<rect x="760.05" y="223.0" width="1" height="3.7" fill="#ee3649"/>
<rect x="758.60" y="223.0" width="3.9" height="3.7" fill="#ee3649"/>
<rect x="765.52" y="218.7" width="1" height="8.0" fill="#089981"/>
<rect x="764.07" y="221.6" width="3.9" height="4.8" fill="#089981"/>
<rect x="770.99" y="219.4" width="1" height="4.1" fill="#089981"/>
<rect x="769.54" y="219.4" width="3.9" height="1.8" fill="#089981"/>
<rect x="776.46" y="218.2" width="1" height="2.0" fill="#089981"/>
<rect x="775.01" y="218.4" width="3.9" height="1.3" fill="#089981"/>
<rect x="781.92" y="217.4" width="1" height="3.7" fill="#089981"/>
<rect x="780.47" y="217.4" width="3.9" height="1.9" fill="#089981"/>
<rect x="787.39" y="212.9" width="1" height="4.7" fill="#089981"/>
<rect x="785.94" y="212.9" width="3.9" height="4.7" fill="#089981"/>
<rect x="792.86" y="211.3" width="1" height="3.6" fill="#089981"/>
<rect x="791.41" y="211.3" width="3.9" height="1.9" fill="#089981"/>
<rect x="798.33" y="211.5" width="1" height="2.2" fill="#ee3649"/>
<rect x="796.88" y="211.8" width="3.9" height="1.9" fill="#ee3649"/>
<rect x="803.80" y="205.5" width="1" height="8.2" fill="#089981"/>
<rect x="802.35" y="205.5" width="3.9" height="8.2" fill="#089981"/>
<rect x="809.26" y="204.7" width="1" height="6.9" fill="#089981"/>
<rect x="807.81" y="204.7" width="3.9" height="1.3" fill="#089981"/>
<rect x="814.73" y="204.0" width="1" height="11.4" fill="#ee3649"/>
<rect x="813.28" y="205.0" width="3.9" height="9.2" fill="#ee3649"/>
<rect x="820.20" y="209.6" width="1" height="6.9" fill="#089981"/>
<rect x="818.75" y="211.6" width="3.9" height="2.6" fill="#089981"/>
<rect x="825.67" y="200.6" width="1" height="12.0" fill="#089981"/>
<rect x="824.22" y="200.6" width="3.9" height="12.0" fill="#089981"/>
<rect x="831.14" y="199.0" width="1" height="27.3" fill="#ee3649"/>
<rect x="829.69" y="200.6" width="3.9" height="25.7" fill="#ee3649"/>
<rect x="836.60" y="221.0" width="1" height="9.6" fill="#089981"/>
<rect x="835.15" y="224.7" width="3.9" height="1.6" fill="#089981"/>
<rect x="842.07" y="214.9" width="1" height="14.4" fill="#089981"/>
<rect x="840.62" y="224.5" width="3.9" height="1.0" fill="#089981"/>
<rect x="847.54" y="223.5" width="1" height="31.9" fill="#ee3649"/>
<rect x="846.09" y="225.2" width="3.9" height="21.2" fill="#ee3649"/>
<rect x="853.01" y="236.1" width="1" height="12.8" fill="#ee3649"/>
<rect x="851.56" y="245.6" width="3.9" height="3.3" fill="#ee3649"/>
<rect x="858.48" y="246.2" width="1" height="6.8" fill="#089981"/>
<rect x="857.03" y="246.2" width="3.9" height="1.0" fill="#089981"/>
<rect x="863.94" y="239.0" width="1" height="8.2" fill="#089981"/>
<rect x="862.49" y="240.4" width="3.9" height="6.5" fill="#089981"/>
<rect x="869.41" y="237.8" width="1" height="13.1" fill="#ee3649"/>
<rect x="867.96" y="240.4" width="3.9" height="9.8" fill="#ee3649"/>
<rect x="874.88" y="240.7" width="1" height="9.0" fill="#089981"/>
<rect x="873.43" y="243.2" width="3.9" height="6.5" fill="#089981"/>
<rect x="880.35" y="237.1" width="1" height="10.1" fill="#089981"/>
<rect x="878.90" y="242.5" width="3.9" height="1.0" fill="#089981"/>
<rect x="885.82" y="240.7" width="1" height="20.0" fill="#ee3649"/>
<rect x="884.37" y="243.2" width="3.9" height="16.3" fill="#ee3649"/>
<rect x="891.28" y="252.2" width="1" height="17.9" fill="#089981"/>
<rect x="889.83" y="255.4" width="3.9" height="3.6" fill="#089981"/>
<rect x="896.75" y="253.0" width="1" height="18.0" fill="#089981"/>
<rect x="895.30" y="253.9" width="3.9" height="1.0" fill="#089981"/>
<rect x="902.22" y="252.5" width="1" height="4.5" fill="#ee3649"/>
<rect x="900.77" y="253.8" width="3.9" height="2.0" fill="#ee3649"/>
<rect x="907.69" y="252.5" width="1" height="6.5" fill="#089981"/>
<rect x="906.24" y="252.5" width="3.9" height="2.9" fill="#089981"/>
<rect x="913.16" y="252.0" width="1" height="1.0" fill="#089981"/>
<rect x="911.71" y="252.0" width="3.9" height="1.0" fill="#089981"/>
<rect x="0" y="361" width="971" height="90.5" fill="rgba(126,87,194,0.1)"/>
<line x1="0" y1="361" x2="971" y2="361" stroke="#a3a6af" stroke-width="1" stroke-dasharray="4 4"/>
<line x1="0" y1="406.3" x2="971" y2="406.3" stroke="#a3a6af" stroke-width="1" stroke-dasharray="4 4"/>
<line x1="0" y1="451.6" x2="971" y2="451.6" stroke="#a3a6af" stroke-width="1" stroke-dasharray="4 4"/>
<defs><linearGradient id="os" x1="0" y1="451.6" x2="0" y2="474" gradientUnits="userSpaceOnUse"><stop offset="0" stop-color="#f23645" stop-opacity="0.02"/><stop offset="1" stop-color="#f23645" stop-opacity="0.3"/></linearGradient><clipPath id="below"><rect x="0" y="451.6" width="972" height="60"/></clipPath></defs>
<polygon clip-path="url(#below)" points="0,451.6 0.0,405.6 5.5,410.5 10.9,417.3 16.4,425.5 21.8,429.6 27.3,438.3 33.3,424.1 38.7,417.3 44.2,409.1 49.7,419.2 55.1,402.8 60.6,437.8 66.0,448.7 70.4,472.7 76.4,471.9 81.9,470.5 87.3,462.9 92.8,464.5 98.8,470.0 105.0,468.3 110.5,468.3 116.0,459.6 120.6,457.4 126.0,439.1 131.5,424.1 137.0,424.7 142.4,427.7 147.9,418.7 153.3,420.0 158.8,410.5 164.3,397.7 169.7,396.8 175.2,405.6 180.6,426.9 186.1,421.9 192.2,409.1 197.6,410.5 203.1,409.4 208.3,411.3 213.7,403.1 219.2,409.7 224.7,419.2 230.1,419.2 235.6,419.2 241.0,419.2 246.5,411.8 251.9,408.6 257.4,429.0 262.9,431.8 268.3,434.5 273.8,429.0 279.5,452.0 284.7,434.5 290.1,432.9 295.6,436.4 301.1,432.3 306.5,423.6 312.0,421.4 317.4,419.5 322.9,427.7 328.3,421.9 333.8,419.8 339.3,420.0 344.7,424.9 350.2,411.8 355.6,403.1 361.1,405.0 366.5,410.5 372.0,397.7 377.5,391.9 382.9,396.0 388.5,404.5 394.2,402.3 399.6,404.5 405.1,417.3 410.6,428.2 416.0,429.6 421.5,389.2 426.9,397.4 432.4,425.5 437.8,426.3 443.3,426.0 448.8,427.4 454.2,424.7 459.7,430.9 465.1,433.1 470.6,425.5 476.0,424.9 481.5,427.4 487.0,420.0 492.4,424.1 497.9,424.7 503.3,426.0 508.8,407.8 514.2,414.0 519.7,420.0 525.2,403.7 530.6,394.9 536.1,402.3 541.5,409.1 547.0,411.0 552.4,407.8 557.9,403.7 563.4,402.3 568.8,412.4 574.4,394.1 580.1,388.5 585.6,387.8 591.0,387.3 596.5,376.9 601.9,379.1 607.4,376.4 612.8,394.9 618.3,402.8 623.8,397.4 629.2,410.5 634.7,412.4 640.1,414.6 645.6,419.2 651.0,416.5 656.5,433.7 662.0,445.4 667.4,447.3 672.9,436.4 678.3,436.4 683.8,448.7 689.2,425.5 694.7,435.0 700.2,428.2 705.6,435.0 711.1,450.0 716.5,464.5 722.0,471.1 727.4,458.2 732.9,449.2 738.3,446.0 743.8,436.4 749.3,436.4 754.7,432.9 760.2,436.8 765.6,425.5 770.9,419.2 776.4,415.9 781.8,412.7 787.3,400.9 792.7,397.4 798.2,402.8 803.7,384.6 809.1,382.7 814.6,406.4 820.0,403.7 825.5,380.5 831.5,426.3 836.4,425.5 841.9,424.7 847.9,448.7 853.3,450.9 858.8,448.1 864.2,434.5 869.7,443.8 875.1,432.9 880.6,433.1 886.1,448.7 891.5,442.4 897.0,440.5 902.4,440.8 907.9,435.0 913.3,435.0 913.3,451.6" fill="url(#os)"/>
<polyline points="0.0,414.6 10.9,418.7 21.8,423.6 32.7,426.3 43.7,423.6 54.6,419.2 60.0,420.0 65.5,422.2 76.4,432.3 87.3,440.5 98.2,446.5 109.1,452.0 120.0,456.9 131.0,459.6 139.2,458.2 147.3,454.1 158.3,444.6 169.2,435.0 180.1,426.9 191.0,420.5 200.9,415.4 211.8,412.4 222.7,410.5 233.7,411.0 244.6,413.8 258.2,414.6 271.9,418.1 285.5,423.3 299.1,427.4 312.8,428.2 326.4,430.1 337.3,429.6 348.3,427.7 359.2,422.8 370.1,418.1 381.0,412.9 390.9,409.9 401.8,407.8 412.7,408.3 423.7,405.6 431.8,406.4 442.8,409.9 453.7,414.6 464.6,418.7 475.5,421.9 486.4,422.2 497.3,424.7 505.5,425.8 516.4,423.6 527.3,420.9 538.3,417.3 549.2,414.6 560.1,411.3 571.0,408.8 580.9,404.5 591.8,399.6 602.7,396.3 613.7,394.7 624.6,393.6 635.5,394.1 646.4,395.5 657.3,400.9 668.2,409.9 679.1,418.7 690.1,425.5 701.0,429.6 711.9,435.0 722.8,441.9 731.0,444.6 739.2,445.1 750.1,444.6 761.0,443.8 770.9,441.9 781.8,439.1 792.7,431.0 803.7,421.4 814.6,413.8 825.5,408.3 833.7,406.4 841.9,405.6 852.8,409.9 863.7,415.4 874.6,421.4 885.5,429.0 896.4,435.0 904.6,439.1 913.3,439.7" fill="none" stroke="#f5d75c" stroke-width="1.1" stroke-linejoin="round"/>
<polyline points="0.0,405.6 5.5,410.5 10.9,417.3 16.4,425.5 21.8,429.6 27.3,438.3 33.3,424.1 38.7,417.3 44.2,409.1 49.7,419.2 55.1,402.8 60.6,437.8 66.0,448.7 70.4,472.7 76.4,471.9 81.9,470.5 87.3,462.9 92.8,464.5 98.8,470.0 105.0,468.3 110.5,468.3 116.0,459.6 120.6,457.4 126.0,439.1 131.5,424.1 137.0,424.7 142.4,427.7 147.9,418.7 153.3,420.0 158.8,410.5 164.3,397.7 169.7,396.8 175.2,405.6 180.6,426.9 186.1,421.9 192.2,409.1 197.6,410.5 203.1,409.4 208.3,411.3 213.7,403.1 219.2,409.7 224.7,419.2 230.1,419.2 235.6,419.2 241.0,419.2 246.5,411.8 251.9,408.6 257.4,429.0 262.9,431.8 268.3,434.5 273.8,429.0 279.5,452.0 284.7,434.5 290.1,432.9 295.6,436.4 301.1,432.3 306.5,423.6 312.0,421.4 317.4,419.5 322.9,427.7 328.3,421.9 333.8,419.8 339.3,420.0 344.7,424.9 350.2,411.8 355.6,403.1 361.1,405.0 366.5,410.5 372.0,397.7 377.5,391.9 382.9,396.0 388.5,404.5 394.2,402.3 399.6,404.5 405.1,417.3 410.6,428.2 416.0,429.6 421.5,389.2 426.9,397.4 432.4,425.5 437.8,426.3 443.3,426.0 448.8,427.4 454.2,424.7 459.7,430.9 465.1,433.1 470.6,425.5 476.0,424.9 481.5,427.4 487.0,420.0 492.4,424.1 497.9,424.7 503.3,426.0 508.8,407.8 514.2,414.0 519.7,420.0 525.2,403.7 530.6,394.9 536.1,402.3 541.5,409.1 547.0,411.0 552.4,407.8 557.9,403.7 563.4,402.3 568.8,412.4 574.4,394.1 580.1,388.5 585.6,387.8 591.0,387.3 596.5,376.9 601.9,379.1 607.4,376.4 612.8,394.9 618.3,402.8 623.8,397.4 629.2,410.5 634.7,412.4 640.1,414.6 645.6,419.2 651.0,416.5 656.5,433.7 662.0,445.4 667.4,447.3 672.9,436.4 678.3,436.4 683.8,448.7 689.2,425.5 694.7,435.0 700.2,428.2 705.6,435.0 711.1,450.0 716.5,464.5 722.0,471.1 727.4,458.2 732.9,449.2 738.3,446.0 743.8,436.4 749.3,436.4 754.7,432.9 760.2,436.8 765.6,425.5 770.9,419.2 776.4,415.9 781.8,412.7 787.3,400.9 792.7,397.4 798.2,402.8 803.7,384.6 809.1,382.7 814.6,406.4 820.0,403.7 825.5,380.5 831.5,426.3 836.4,425.5 841.9,424.7 847.9,448.7 853.3,450.9 858.8,448.1 864.2,434.5 869.7,443.8 875.1,432.9 880.6,433.1 886.1,448.7 891.5,442.4 897.0,440.5 902.4,440.8 907.9,435.0 913.3,435.0" fill="none" stroke="#7558bd" stroke-width="1.1" stroke-linejoin="round"/>
</svg>
<div id="wrap">
<div class="ax" style="top:22.4px">0.1800</div>
<div class="ax" style="top:51.0px">0.1700</div>
<div class="ax" style="top:79.6px">0.1600</div>
<div class="ax" style="top:108.2px">0.1500</div>
<div class="ax" style="top:136.8px">0.1400</div>
<div class="ax" style="top:165.4px">0.1300</div>
<div class="ax" style="top:194.0px">0.1200</div>
<div class="ax" style="top:222.6px">0.1100</div>
<div class="ax" style="top:251.2px">0.1000</div>
<div class="ax" style="top:279.8px">0.0900</div>
<div class="ax" style="top:308.4px">0.0800</div>
<div class="ax" style="top:337.0px">0.0700</div>
<div style="position:absolute;left:972px;top:345px;width:52px;height:177.5px;background:#fff"></div>
<div class="ax" style="top:377.8px">60.00</div>
<div class="ax" style="top:423.2px">40.00</div>
<div class="ax" style="top:468.8px">20.00</div>
<div class="lab" style="top:194.4px;height:15.3px;line-height:16.8px;background:#ee3649">0.1193</div>
<div class="lab" style="top:229.8px;height:16px;line-height:14.4px;background:#2962ff">0.1069</div>
<div class="lab" style="top:245.6px;height:27.5px;width:53px;background:#089981;border-radius:2px 0 0 0"><div style="height:14px;line-height:14.5px">0.1018</div><div style="height:13px;line-height:12px;color:#b9e3da">03:59:42</div></div>
<div class="lab" style="top:273px;height:15px;background:#089981;line-height:17.4px;border-radius:0 0 2px 2px">0.0945</div>
<div class="lab" style="left:920px;width:50.8px;top:245.2px;height:14.6px;line-height:14.6px;background:#089981;border-radius:2px;text-indent:0;text-align:center;font-size:10.8px;letter-spacing:0;"><span style="display:inline-block;transform:scaleX(0.84);transform-origin:50% 50%;-webkit-text-stroke:0.2px #fff">SXPUSDT</span></div>
<div class="lab" style="top:427.5px;width:40px;background:#7e57c2">37.26</div>
<div class="lab" style="top:444px;width:40px;background:#fdd835;color:#131722">35.20</div>
<div style="position:absolute;left:973px;top:1px;width:51px;height:27.7px;background:#fff"></div><div style="position:absolute;left:975px;top:2.5px;width:47.5px;height:22.6px;background:#fff;border:1px solid #eff1f6;border-radius:4px;box-sizing:border-box"></div>
<div class="t" style="left:978.2px;top:8.6px;font-size:11.5px;transform-origin:0 0;transform:scaleX(0.81)">USDT</div>
<svg style="position:absolute;left:1012px;top:10px" width="10" height="8" viewBox="0 0 10 8"><path d="M2.4 2.9 L4.8 5.1 L7.2 2.9" fill="none" stroke="#131722" stroke-width="1.3"/></svg>
<div class="tl" style="left:5.5px">9</div>
<div class="tl" style="left:71.1px">11</div>
<div class="tl" style="left:136.7px">13</div>
<div class="tl" style="left:202.4px">15</div>
<div class="tl" style="left:268px">17</div>
<div class="tl" style="left:333.6px">19</div>
<div class="tl" style="left:399.2px">21</div>
<div class="tl" style="left:464.8px">23</div>
<div class="tl" style="left:530.5px">25</div>
<div class="tl" style="left:596.1px">27</div>
<div class="tl" style="left:661.7px">29</div>
<div class="tl" style="left:825.6px">3</div>
<div class="tl" style="left:891.3px">5</div>
<div class="tl" style="left:956.9px">7</div>
<div class="tl" style="left:760px;font-weight:bold">Nov</div>
<svg style="position:absolute;left:990.3px;top:502px" width="17.4" height="17.4" viewBox="0 0 20 20"><path d="M6.4 3.8 h7.2 l3.6 6.2 l-3.6 6.2 h-7.2 l-3.6 -6.2 z" fill="none" stroke="#131722" stroke-width="1.2" stroke-linejoin="round"/><circle cx="10" cy="10" r="2.1" fill="none" stroke="#131722" stroke-width="1.2"/></svg>
<div class="rb" style="left:18px">1D</div>
<div class="rb" style="left:43px">5D</div>
<div class="rb" style="left:69.7px">1M</div>
<div class="rb" style="left:96.2px">3M</div>
<div class="rb" style="left:122.6px">6M</div>
<div class="rb" style="left:152.5px">YTD</div>
<div class="rb" style="left:182.3px">1Y</div>
<div class="rb" style="left:206.7px">5Y</div>
<div class="rb" style="left:232.3px">All</div>
<div style="position:absolute;left:249px;top:531px;width:1px;height:19px;background:#e0e3eb"></div>
<svg style="position:absolute;left:260px;top:530px" width="22" height="20" viewBox="0 0 22 20"><g fill="none" stroke="#131722" stroke-width="1.15"><path d="M3.5 9 V5.8 a1.6 1.6 0 0 1 1.6 -1.6 H16.4 a1.6 1.6 0 0 1 1.6 1.6 V15.6 a1.6 1.6 0 0 1 -1.6 1.6 H12"/><path d="M7 2 V6 M14.5 2 V6 M3.5 8 H18"/><path d="M1.5 13.5 H8.5 M6 10.8 L8.7 13.5 L6 16.2"/></g></svg>
<div class="t" style="left:911px;top:534.5px;font-size:12.4px;-webkit-text-stroke:0.35px #131722;letter-spacing:0px">17:30:17 UTC+5:30</div>
<div style="position:absolute;left:0;top:1px;width:161px;height:61px;background:rgba(255,255,255,0.5)"></div><div style="position:absolute;left:0;top:62px;width:228px;height:21px;background:rgba(255,255,255,0.5);border-radius:0 0 3px 0"></div><div style="position:absolute;left:0;top:351px;width:143px;height:16.5px;background:rgba(255,255,255,0.72);border-radius:0 2px 2px 0"></div>
<svg style="position:absolute;left:4px;top:3px" width="22" height="22" viewBox="0 0 22 22"><circle cx="13.3" cy="7.1" r="5.2" fill="#16938e"/><path d="M11.4 6.4 A2.3 2.3 0 0 1 13.9 9 M11.2 4.7 A4 4 0 0 1 15.6 9.2" fill="none" stroke="#a6e6e0" stroke-width="0.9" stroke-linecap="round"/><circle cx="7.6" cy="12.8" r="6" fill="#fff"/><circle cx="7.6" cy="12.8" r="5.25" fill="#dd6641"/><circle cx="7.6" cy="12.8" r="2.5" fill="#f6cdbb"/><circle cx="7.6" cy="12.8" r="0.8" fill="#e58c6c"/></svg>
<div class="t" id="title" style="left:26px;top:7.2px;font-size:13.6px;-webkit-text-stroke:0.35px #131722;letter-spacing:0.07px"><span style="display:inline-block;transform:scaleX(0.88);transform-origin:0 50%">SXP</span><span style="margin-left:-1.6px"> / </span><span style="margin-left:0.6px">TetherUS</span> · 4h · Binance</div>
<div style="position:absolute;left:220px;top:5.8px;width:15px;height:15px;border-radius:50%;background:#d3efe9"></div><div style="position:absolute;left:224.2px;top:10px;width:6.6px;height:6.6px;border-radius:50%;background:#089981"></div>
<div class="t" id="ohlc" style="left:243px;top:7.5px;font-size:11.8px;color:#089981;letter-spacing:-0.05px"><span style="color:#131722">O</span>0.1018 <span style="color:#131722;margin-left:2px">H</span>0.1018 <span style="color:#131722;margin-left:2px">L</span>0.1018 <span style="color:#131722;margin-left:1.5px">C</span>0.1018 <span style="margin-left:0px;letter-spacing:-0.25px">0.0000 (0.00%)</span></div>
<div class="btn" style="left:5px;border-color:#dc7883;color:#d44f5d"><b>0.1017</b><span>SELL</span></div>
<div class="btn" style="left:103px;border-color:#7392d8;color:#456fd2"><b>0.1018</b><span>BUY</span></div>
<div class="t" style="left:68px;top:38px;font-size:9.5px;letter-spacing:-0.2px">0.0001</div>
<div class="t" id="bb" style="left:6px;top:68px;font-size:11.5px;letter-spacing:0px"><span style="display:inline-block;width:93.3px;height:11.5px;position:relative;vertical-align:top"><i style="left:-0.1px;transform:scaleX(0.85)">BB</i><i style="left:16.9px;transform:scaleX(0.96)">20</i><i style="left:32.7px;transform:scaleX(0.8)">SMA</i><i style="left:57.3px;transform:scaleX(0.94)">close</i><i style="left:87.6px;transform:scaleX(0.9)">2</i></span> <span style="color:#4a76da;margin-left:4.5px">0.1069</span> <span style="color:#da5866;margin-left:2.8px">0.1193</span> <span style="color:#2a9e88;margin-left:2.8px">0.0945</span></div>
<div style="position:absolute;left:5.5px;top:86px;width:25px;height:19px;background:rgba(255,255,255,0.82);border:1px solid rgba(224,227,235,0.6);border-radius:3px;box-sizing:border-box"></div><svg style="position:absolute;left:11px;top:91px" width="14" height="10" viewBox="0 0 14 10"><path d="M2.6 7.2 L7 3 L11.4 7.2" fill="none" stroke="#131722" stroke-width="1.4"/></svg>
<div class="t" id="rsi" style="left:6px;top:354.5px;font-size:11.5px;background:rgba(255,255,255,0.0)"><span style="letter-spacing:-0.3px">RSI 14 close</span> <span style="color:#7e57c2;margin-left:4.2px">37.26</span> <span style="color:#ecd033;margin-left:3px">35.20</span></div>
<svg style="position:absolute;left:7px;top:465.5px" width="32" height="25" viewBox="0 0 36 28"><path d="M14 6H2v6h6v9h6V6Zm12 15h-7l6-15h7l-6 15Zm-7-9a3 3 0 1 0 0-6 3 3 0 0 0 0 6Z" fill="#131722"/></svg>
<div class="t" id="tv" style="left:43px;top:467.5px;font-size:19px;font-weight:bold;color:#131722;letter-spacing:-0.25px;-webkit-text-stroke:0.4px #131722">TradingView</div>
<svg style="position:absolute;left:902.2px;top:321.2px" width="24" height="24" viewBox="0 0 24 24"><path d="M19.6 9.4 A8.6 8.6 0 1 1 14.2 3.2" fill="none" stroke="#9c27b0" stroke-width="1.3" stroke-linecap="round"/><path d="M14.4 7 L7.7 12.5 H11.2 L8.9 16.3 L15.2 10.7 H11.8 Z" fill="#9c27b0" stroke="#9c27b0" stroke-width="0.7" stroke-linejoin="round"/><circle cx="18" cy="5.1" r="2.3" fill="#e23b4d"/></svg>
<div style="position:absolute;left:0;top:0;width:1024px;height:1px;background:#f2f3f6"></div>
</div>
</body></html>
